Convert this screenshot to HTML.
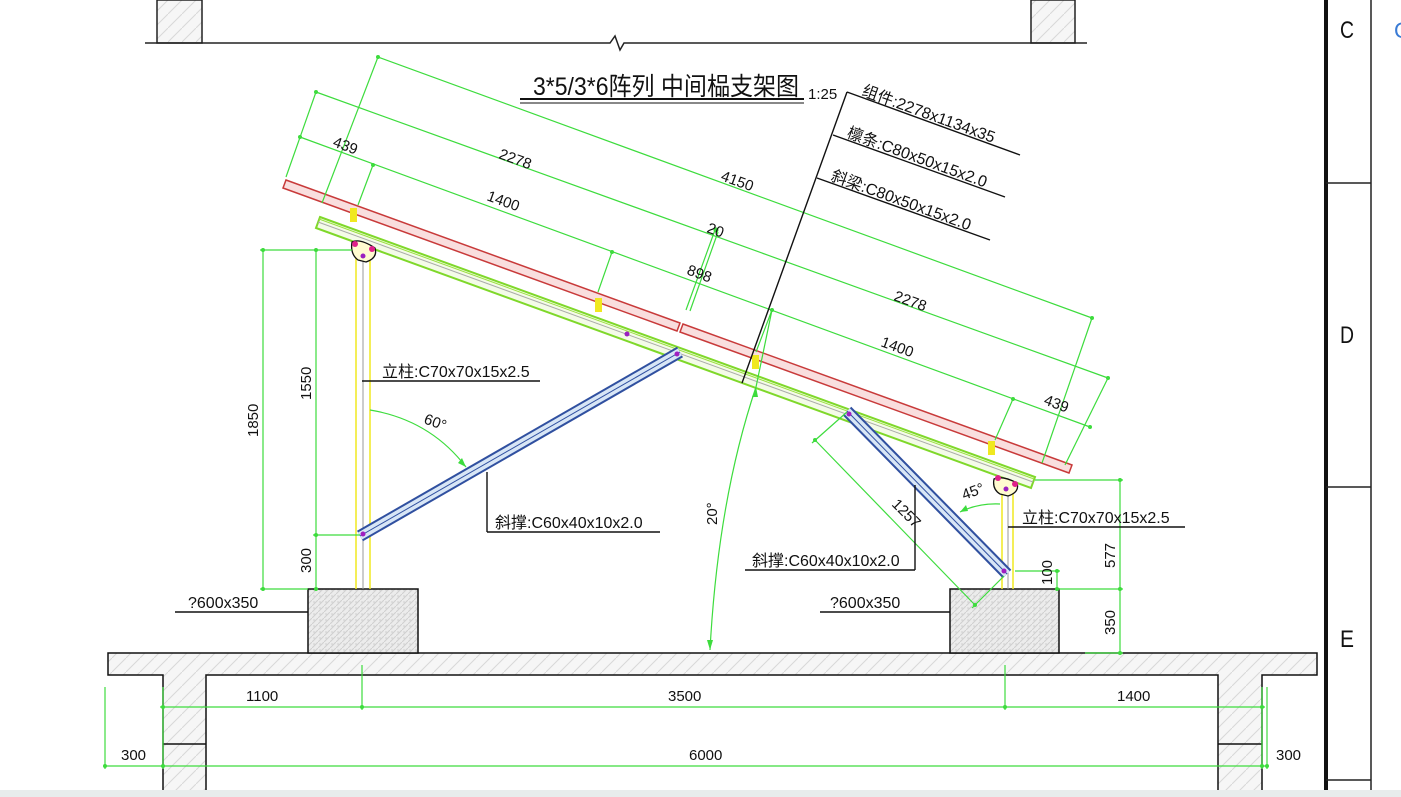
<!DOCTYPE html>
<html><head><meta charset="utf-8"><style>
html,body{margin:0;padding:0;background:#fff;}
svg{display:block;}
text{font-family:"Liberation Sans","Noto Sans CJK SC",sans-serif;fill:#111;}
</style></head><body>
<svg width="1401" height="797" viewBox="0 0 1401 797" xmlns="http://www.w3.org/2000/svg">
<defs>
<pattern id="h1" width="14" height="14" patternUnits="userSpaceOnUse"><rect width="14" height="14" fill="#f6f6f6"/><path d="M0,14 L14,0" stroke="#d8d8d8" stroke-width="1"/></pattern>
<pattern id="h2" width="6" height="6" patternUnits="userSpaceOnUse"><rect width="6" height="6" fill="#ececec"/><path d="M0,6 L6,0" stroke="#cfcfcf" stroke-width="1"/><circle cx="2" cy="2" r="0.6" fill="#bbb"/></pattern>
</defs>
<!-- top -->
<rect x="157" y="0" width="45" height="43" fill="url(#h1)" stroke="#222" stroke-width="1.5"/>
<rect x="1031" y="0" width="44" height="43" fill="url(#h1)" stroke="#222" stroke-width="1.5"/>
<path d="M145,43 L610,43 L615,36 L620,50 L624,43 L1087,43" stroke="#222" stroke-width="1.5" fill="none"/>
<!-- right frame -->
<line x1="1326" y1="0" x2="1326" y2="797" stroke="#111" stroke-width="4"/>
<line x1="1371" y1="0" x2="1371" y2="797" stroke="#222" stroke-width="1.5"/>
<line x1="1326" y1="183" x2="1371" y2="183" stroke="#222" stroke-width="1.5"/>
<line x1="1326" y1="487" x2="1371" y2="487" stroke="#222" stroke-width="1.5"/>
<line x1="1326" y1="780" x2="1371" y2="780" stroke="#222" stroke-width="1.5"/>
<text x="1340" y="38" font-size="24" textLength="14" lengthAdjust="spacingAndGlyphs">C</text>
<text x="1340" y="343" font-size="24" textLength="14" lengthAdjust="spacingAndGlyphs">D</text>
<text x="1340" y="647" font-size="24" textLength="14" lengthAdjust="spacingAndGlyphs">E</text>
<text x="1394" y="38" font-size="22" style="fill:#3a7bd5">C</text>
<!-- slab -->
<path d="M108,653 L1317,653 L1317,675 L1262,675 L1262,797 L1218,797 L1218,675 L206,675 L206,797 L163,797 L163,675 L108,675 Z" fill="url(#h1)" stroke="#111" stroke-width="1.5"/>
<line x1="163" y1="744" x2="206" y2="744" stroke="#111" stroke-width="1.5"/>
<line x1="1218" y1="744" x2="1262" y2="744" stroke="#111" stroke-width="1.5"/>
<rect x="0" y="790" width="1401" height="7" fill="#e8ecec"/>
<!-- foundations -->
<rect x="308" y="589" width="110" height="64" fill="url(#h2)" stroke="#111" stroke-width="1.5"/>
<rect x="950" y="589" width="109" height="64" fill="url(#h2)" stroke="#111" stroke-width="1.5"/>
<!-- posts -->
<g stroke="#f0e820" stroke-width="1.5">
<line x1="356" y1="255" x2="356" y2="589"/><line x1="370" y1="255" x2="370" y2="589"/>
<line x1="1002" y1="492" x2="1002" y2="589"/><line x1="1013" y1="492" x2="1013" y2="589"/>
</g>
<line x1="363" y1="255" x2="363" y2="589" stroke="#999" stroke-width="1"/>
<line x1="1008" y1="492" x2="1008" y2="589" stroke="#999" stroke-width="1"/>
<!-- beam -->
<polygon points="320,217 1035,477 1031,488 316,228" fill="#f4fbe8" stroke="#7fd82a" stroke-width="2"/>
<line x1="318" y1="222" x2="1033" y2="482" stroke="#aaa" stroke-width="1"/>
<line x1="319" y1="219" x2="1034" y2="479" stroke="#9be040" stroke-width="1"/>
<!-- panels -->
<polygon points="286,180 680,323 677,331 283,188" fill="#f9dede" stroke="#c83a3a" stroke-width="1.5"/>
<polygon points="683,324 1072,465 1069,473 680,332" fill="#f9dede" stroke="#c83a3a" stroke-width="1.5"/>
<!-- clamps -->
<g fill="#f0e820">
<rect x="350" y="208" width="7" height="14"/><rect x="595" y="298" width="7" height="14"/><rect x="752" y="355" width="7" height="14"/><rect x="988" y="441" width="7" height="14"/>
</g>
<!-- brackets -->
<path d="M352,242 Q360,238 375,248 Q378,258 366,262 L358,260 Q350,254 352,242 Z" fill="#fffbd0" stroke="#111" stroke-width="1.3"/>
<path d="M994,479 Q1002,475 1017,483 Q1020,492 1008,496 L1000,494 Q992,489 994,479 Z" fill="#fffbd0" stroke="#111" stroke-width="1.3"/>
<g fill="#e0208a"><circle cx="355" cy="244" r="3"/><circle cx="372" cy="249" r="3"/><circle cx="998" cy="478" r="3"/><circle cx="1015" cy="484" r="3"/></g>
<g fill="#9a20c0"><circle cx="363" cy="256" r="2.5"/><circle cx="1006" cy="489" r="2.5"/><circle cx="627" cy="334" r="2.5"/></g>
<!-- braces -->
<line x1="360" y1="536" x2="680" y2="352" stroke="#3050a0" stroke-width="12"/>
<line x1="360" y1="536" x2="680" y2="352" stroke="#d8e6f6" stroke-width="8"/>
<line x1="360" y1="536" x2="680" y2="352" stroke="#3050a0" stroke-width="1"/>
<line x1="847" y1="411" x2="1007" y2="574" stroke="#3050a0" stroke-width="12"/>
<line x1="847" y1="411" x2="1007" y2="574" stroke="#d8e6f6" stroke-width="8"/>
<line x1="847" y1="411" x2="1007" y2="574" stroke="#3050a0" stroke-width="1"/>
<g fill="#a020c0"><circle cx="363" cy="534" r="2.5"/><circle cx="677" cy="354" r="2.5"/><circle cx="849" cy="414" r="2.5"/><circle cx="1004" cy="571" r="2.5"/></g>
<!-- dimensions green -->
<g stroke="#3ddc3d" stroke-width="1.2" fill="none">
<line x1="378" y1="57" x2="1092" y2="318"/>
<line x1="316" y1="92" x2="1108" y2="378"/>
<line x1="300" y1="137" x2="1090" y2="427"/>
<line x1="378" y1="57" x2="322" y2="203"/>
<line x1="316" y1="92" x2="286" y2="177"/>
<line x1="373" y1="165" x2="358" y2="205"/>
<line x1="612" y1="252" x2="598" y2="292"/>
<line x1="772" y1="310" x2="756" y2="352"/>
<line x1="1013" y1="399" x2="995" y2="440"/>
<line x1="1092" y1="318" x2="1042" y2="463"/>
<line x1="1108" y1="378" x2="1065" y2="465"/>
<line x1="715" y1="230" x2="686" y2="310"/><line x1="718" y1="232" x2="690" y2="311"/>
<line x1="263" y1="250" x2="263" y2="589"/>
<line x1="316" y1="250" x2="316" y2="589"/>
<line x1="260" y1="250" x2="352" y2="250"/>
<line x1="313" y1="535" x2="360" y2="535"/>
<line x1="260" y1="589" x2="308" y2="589"/>
<line x1="1120" y1="480" x2="1120" y2="653"/>
<line x1="1035" y1="480" x2="1123" y2="480"/>
<line x1="1059" y1="589" x2="1123" y2="589"/>
<line x1="1085" y1="653" x2="1123" y2="653"/>
<line x1="1057" y1="571" x2="1057" y2="589"/>
<line x1="1015" y1="571" x2="1060" y2="571"/>
<line x1="815" y1="440" x2="975" y2="605"/>
<line x1="847" y1="412" x2="812" y2="443"/>
<line x1="1004" y1="576" x2="972" y2="608"/>
<path d="M370,410 Q430,420 466,467"/>
<path d="M960,512 Q978,503 1000,504"/>
<path d="M756,387 Q718,500 710,650"/>
<line x1="756" y1="387" x2="772" y2="310"/>
<line x1="160" y1="707" x2="1265" y2="707"/>
<line x1="105" y1="766" x2="1267" y2="766"/>
<line x1="362" y1="665" x2="362" y2="710"/>
<line x1="1005" y1="665" x2="1005" y2="710"/>
<line x1="163" y1="687" x2="163" y2="769"/>
<line x1="1262" y1="687" x2="1262" y2="769"/>
<line x1="105" y1="687" x2="105" y2="769"/>
<line x1="1267" y1="687" x2="1267" y2="769"/>
</g>
<g fill="#3ddc3d">
<circle cx="378" cy="57" r="2"/><circle cx="1092" cy="318" r="2"/><circle cx="316" cy="92" r="2"/><circle cx="1108" cy="378" r="2"/><circle cx="300" cy="137" r="2"/><circle cx="373" cy="165" r="2"/><circle cx="612" cy="252" r="2"/><circle cx="772" cy="310" r="2"/><circle cx="1013" cy="399" r="2"/><circle cx="1090" cy="427" r="2"/><circle cx="716" cy="230" r="2.5"/>
<circle cx="263" cy="250" r="2"/><circle cx="316" cy="250" r="2"/><circle cx="316" cy="535" r="2"/><circle cx="263" cy="589" r="2"/><circle cx="316" cy="589" r="2"/>
<circle cx="1120" cy="480" r="2"/><circle cx="1120" cy="589" r="2"/><circle cx="1120" cy="653" r="2"/><circle cx="1057" cy="571" r="2"/><circle cx="1057" cy="589" r="2"/>
<circle cx="815" cy="440" r="2"/><circle cx="975" cy="605" r="2"/>
<circle cx="163" cy="707" r="2"/><circle cx="362" cy="707" r="2"/><circle cx="1005" cy="707" r="2"/><circle cx="1262" cy="707" r="2"/><circle cx="105" cy="766" r="2"/><circle cx="163" cy="766" r="2"/><circle cx="1262" cy="766" r="2"/><circle cx="1267" cy="766" r="2"/>
<polygon points="466,467 458,463 462,458"/><polygon points="960,512 966,505 968,511"/><polygon points="710,650 707,640 713,640"/><polygon points="756,387 752,397 758,397"/>
</g>
<!-- dim text -->
<g font-size="15">
<text transform="translate(332,146) rotate(20)">439</text>
<text transform="translate(498,158) rotate(20)">2278</text>
<text transform="translate(486,200) rotate(20)">1400</text>
<text transform="translate(720,180) rotate(20)">4150</text>
<text transform="translate(893,300) rotate(20)">2278</text>
<text transform="translate(880,346) rotate(20)">1400</text>
<text transform="translate(1043,404) rotate(20)">439</text>
<text transform="translate(706,232) rotate(20)">20</text>
<text transform="translate(686,274) rotate(20)">898</text>
<text transform="translate(891,505) rotate(45)">1257</text>
<text transform="translate(423,423) rotate(20)">60°</text>
<text transform="translate(964,500) rotate(-20)">45°</text>
<text transform="translate(717,525) rotate(-90)">20°</text>
<text transform="translate(258,437) rotate(-90)">1850</text>
<text transform="translate(311,400) rotate(-90)">1550</text>
<text transform="translate(311,573) rotate(-90)">300</text>
<text transform="translate(1115,568) rotate(-90)">577</text>
<text transform="translate(1115,635) rotate(-90)">350</text>
<text transform="translate(1052,585) rotate(-90)">100</text>
<text x="246" y="701">1100</text>
<text x="668" y="701">3500</text>
<text x="1117" y="701">1400</text>
<text x="689" y="760">6000</text>
<text x="121" y="760">300</text>
<text x="1276" y="760">300</text>
</g>
<!-- title -->
<text x="533" y="95" font-size="25" textLength="266" lengthAdjust="spacingAndGlyphs">3*5/3*6阵列 中间榀支架图</text>
<line x1="520" y1="99" x2="804" y2="99" stroke="#111" stroke-width="2"/>
<line x1="520" y1="103" x2="804" y2="103" stroke="#111" stroke-width="1"/>
<text x="808" y="99" font-size="15">1:25</text>
<!-- leaders -->
<g stroke="#111" stroke-width="1.4" fill="none">
<line x1="742" y1="383" x2="847" y2="92"/>
<line x1="847" y1="92" x2="1020" y2="155"/>
<line x1="833" y1="135" x2="1005" y2="197"/>
<line x1="817" y1="178" x2="990" y2="240"/>
<line x1="362" y1="381" x2="540" y2="381"/>
<line x1="1008" y1="527" x2="1185" y2="527"/>
<line x1="487" y1="472" x2="487" y2="532"/><line x1="487" y1="532" x2="660" y2="532"/>
<line x1="745" y1="570" x2="915" y2="570"/><line x1="915" y1="485" x2="915" y2="570"/>
<line x1="175" y1="612" x2="308" y2="612"/>
<line x1="820" y1="612" x2="950" y2="612"/>
</g>
<g font-size="16">
<text transform="translate(861,95) rotate(20)">组件:2278x1134x35</text>
<text transform="translate(846,137) rotate(20)">檩条:C80x50x15x2.0</text>
<text transform="translate(830,180) rotate(20)">斜梁:C80x50x15x2.0</text>
<text x="382" y="377">立柱:C70x70x15x2.5</text>
<text x="1022" y="523">立柱:C70x70x15x2.5</text>
<text x="495" y="528">斜撑:C60x40x10x2.0</text>
<text x="752" y="566">斜撑:C60x40x10x2.0</text>
<text x="188" y="608">?600x350</text>
<text x="830" y="608">?600x350</text>
</g>
</svg>
</body></html>
